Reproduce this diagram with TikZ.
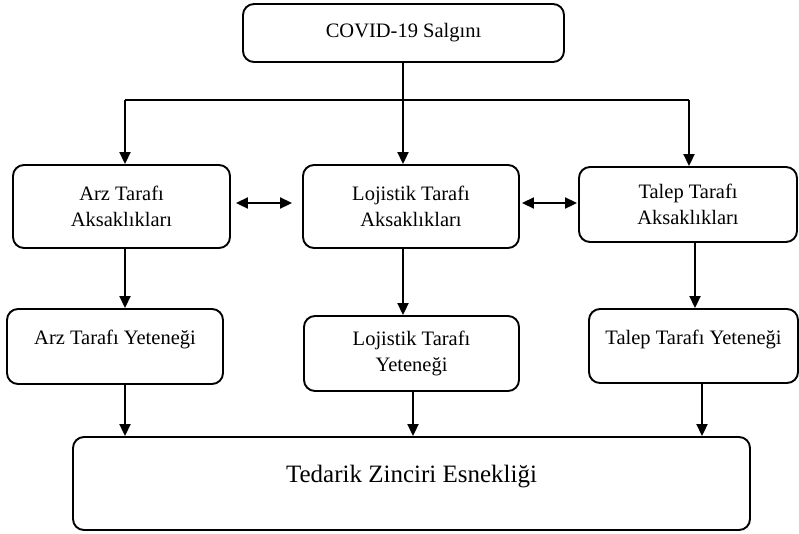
\documentclass[tikz,border=0pt]{standalone}
\usepackage{fontspec}
\setmainfont{Liberation Serif}
\usetikzlibrary{arrows.meta,calc}
\begin{document}
\begin{tikzpicture}[x=1pt,y=-1pt,
  box/.style={draw=black,line width=1.9pt,rounded corners=11pt,inner sep=0pt,align=center,
    font=\fontsize{20.5}{26}\selectfont},
  txt/.style={inner sep=0pt,align=center,font=\fontsize{20.5}{26}\selectfont},
  arr/.style={line width=1.9pt,-{Triangle[length=12pt,width=11pt]}},
  darr/.style={line width=1.9pt,{Triangle[length=12pt,width=11pt]}-{Triangle[length=12pt,width=11pt]}},
  ln/.style={line width=1.5pt}]
\useasboundingbox (0,0) rectangle (799,533);
\node[box,minimum width=321pt,minimum height=58pt] (top) at (403.5,33) {COVID-19 Salgını};
\node[box,minimum width=217pt,minimum height=83pt] (arzA) at (121.5,206.5) {Arz Tarafı\\Aksaklıkları};
\node[box,minimum width=216pt,minimum height=83pt] (lojA) at (411,206.5) {Lojistik Tarafı\\Aksaklıkları};
\node[box,minimum width=218pt,minimum height=75pt] (talA) at (688,204.5) {Talep Tarafı\\Aksaklıkları};
\node[box,minimum width=216pt,minimum height=75pt] (arzY) at (115,346.5) {};
\node[txt] (arzYt) at (115,339) {Arz Tarafı Yeteneği};
\node[box,minimum width=215pt,minimum height=75pt] (lojY) at (411.5,353.5) {Lojistik Tarafı\\Yeteneği};
\node[box,minimum width=209pt,minimum height=74pt] (talY) at (693.5,346) {};
\node[txt] (talYt) at (693.5,339) {Talep Tarafı Yeteneği};
\node[box,minimum width=677pt,minimum height=93pt] (bot) at (411.5,483.5) {};
\node[inner sep=0pt,font=\fontsize{25}{30}\selectfont] (bott) at (411.5,477) {Tedarik Zinciri Esnekliği};
% connectors
\coordinate (hL) at (125,100);
\coordinate (hR) at (689,100);
\coordinate (hM) at (403,100);
\coordinate (xa) at (125,0);
\coordinate (xl) at (403,0);
\coordinate (xt) at (695,0);
\coordinate (xa2) at (125,0);
\coordinate (xl2) at (413,0);
\coordinate (xt2) at (702,0);
\draw[ln] (hL) -- (hR);
\draw[arr] (top.south -| hM) -- (hM |- lojA.north);
\draw[arr] (hL) -- (hL |- arzA.north);
\draw[arr] (hR) -- (hR |- talA.north);
\draw[arr] (xa |- arzA.south) -- (xa |- arzY.north);
\draw[arr] (xl |- lojA.south) -- (xl |- lojY.north);
\draw[arr] (xt |- talA.south) -- (xt |- talY.north);
\draw[arr] (xa2 |- arzY.south) -- (xa2 |- bot.north);
\draw[arr] (xl2 |- lojY.south) -- (xl2 |- bot.north);
\draw[arr] (xt2 |- talY.south) -- (xt2 |- bot.north);
\draw[darr,shorten <=5pt,shorten >=10pt] (arzA.east |- 0,203) -- (lojA.west |- 0,203);
\draw[darr,shorten <=2pt,shorten >=1pt] (lojA.east |- 0,203) -- (talA.west |- 0,203);
\end{tikzpicture}
\end{document}
